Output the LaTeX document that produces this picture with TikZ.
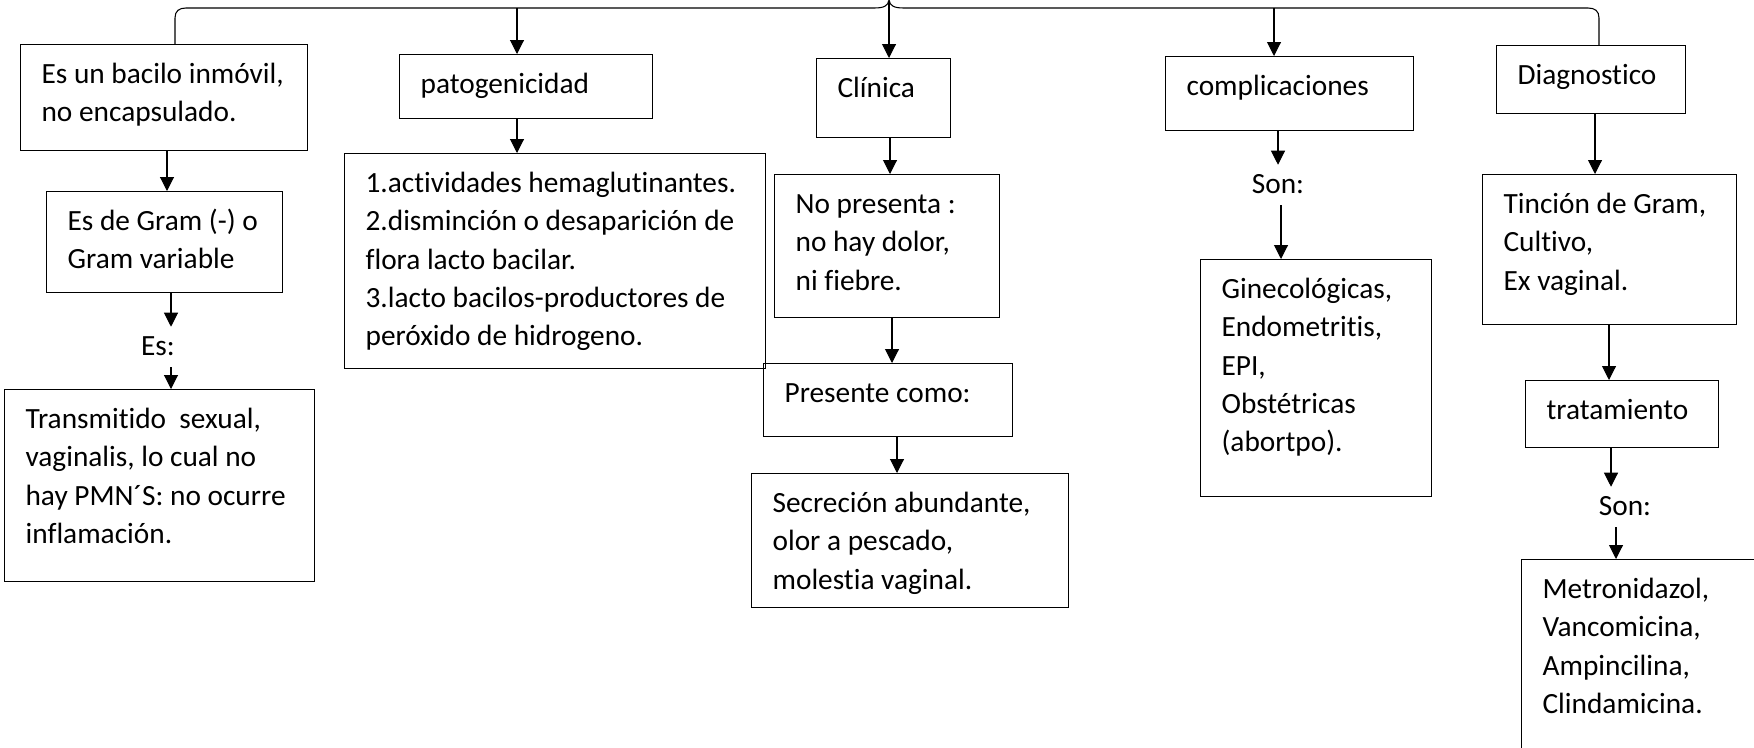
\documentclass[tikz,border=0pt]{standalone}
\usepackage{fontspec}
\setmainfont{Carlito}[Ligatures=NoCommon]
\usepackage{tikz}
\usetikzlibrary{arrows.meta,calc}
\newdimen\pxu \pxu=0.75pt
\newcommand{\pix}[1]{\the\dimexpr #1\pxu\relax}
\tikzset{
  caja/.style={rectangle, draw=black, line width=0.9pt, anchor=north west, inner sep=0pt,
    align=flush left, text height=\pix{39}, font=\fontsize{22pt}{28.7pt}\selectfont,
    execute at begin node={\leftskip=\pix{21}\relax}},
  etiq/.style={anchor=base, inner sep=0pt, text height=\pix{28}, text depth=\pix{12},
    font=\fontsize{22pt}{28.7pt}\selectfont},
  line/.style={draw, line width=0.8pt, -{Triangle[length=\pix{14},width=\pix{14}]}},
  corchete/.style={draw, line width=0.8pt},
}
\begin{document}
\begin{tikzpicture}[x=0.75pt,y=-0.75pt]
\useasboundingbox (0,0) rectangle (1754,747);
\clip (0,0) rectangle (1754,747);

  % top row
  \node[caja, text width=\pix{287}, text depth=\pix{67}] (bacilo) at (20,44) {Es un bacilo inmóvil,\\no encapsulado.};
  \node[caja, text width=\pix{253}, text depth=\pix{25}] (pato) at (399,54) {patogenicidad};
  \node[caja, text width=\pix{134}, text depth=\pix{40}] (clin) at (816,58) {Clínica};
  \node[caja, text width=\pix{248}, text depth=\pix{35}] (compl) at (1165,56) {complicaciones};
  \node[caja, text width=\pix{189}, text depth=\pix{29}] (diag) at (1496,45) {Diagnostico};

  \coordinate (rama1) at (517,8);
  \coordinate (punta) at (889,1);
  \coordinate (rama3) at (1274,8);
  \path[corchete] (bacilo.north -| 175,0) -- (175,18) .. controls (175,11) and (179,8) .. (186,8) -- (874,8)
    .. controls (884,8) and (888,6) .. (889,0) .. controls (890,6) and (894,8) .. (904,8) -- (1588,8)
    .. controls (1595,8) and (1599,11) .. (1599,18) -- (diag.north -| 1599,0);
  \path[line] (rama1) -- (rama1 |- pato.north);
  \path[line] (punta) -- (punta |- clin.north);
  \path[line] (rama3) -- (rama3 |- compl.north);

  % left column
  \node[caja, text width=\pix{236}, text depth=\pix{62}] (gram) at (46,191) {Es de Gram (-) o\\Gram variable};
  \node[etiq] (es) at (158,355) {Es:};
  \node[caja, text width=\pix{310}, text depth=\pix{153}] (trans) at (4,389) {Transmitido\ \ sexual,\\vaginalis, lo cual no\\hay PMN´S: no ocurre\\inflamación.};
  \path[line] (bacilo.south -| 167,0) -- (gram.north -| 167,0);
  \path[line] (gram.south -| 171,0) -- (es.north -| 171,0);
  \path[line] (es.south -| 171,0) -- (trans.north -| 171,0);

  % patogenicidad
  \node[caja, text width=\pix{421}, text depth=\pix{176}] (activ) at (344,153) {1.actividades hemaglutinantes.\\2.disminción o desaparición de\\flora lacto bacilar.\\3.lacto bacilos-productores de\\peróxido de hidrogeno.};
  \path[line] (pato.south -| 517,0) -- (activ.north -| 517,0);

  % clinica
  \node[caja, text width=\pix{225}, text depth=\pix{104}] (nopres) at (774,174) {No presenta :\\no hay dolor,\\ni fiebre.};
  \node[caja, text width=\pix{249}, text depth=\pix{34}] (pres) at (763,363) {Presente como:};
  \node[caja, text width=\pix{317}, text depth=\pix{95}] (secrec) at (751,473) {Secreción abundante,\\olor a pescado,\\molestia vaginal.};
  \path[line] (clin.south -| 890,0) -- (nopres.north -| 890,0);
  \path[line] (nopres.south -| 892,0) -- (pres.north -| 892,0);
  \path[line] (pres.south -| 897,0) -- (secrec.north -| 897,0);

  % complicaciones
  \node[etiq] (son1) at (1278,193) {Son:};
  \node[caja, text width=\pix{231}, text depth=\pix{198}] (gineco) at (1200,259) {Ginecológicas,\\Endometritis,\\EPI,\\Obstétricas\\(abortpo).};
  \path[line] (compl.south -| 1278,0) -- (son1.north -| 1278,0);
  \path[line] (son1.south -| 1281,0) -- (gineco.north -| 1281,0);

  % diagnostico
  \node[caja, text width=\pix{254}, text depth=\pix{111}] (tinc) at (1482,174) {Tinción de Gram,\\Cultivo,\\Ex vaginal.};
  \node[caja, text width=\pix{193}, text depth=\pix{28}] (trat) at (1525,380) {tratamiento};
  \node[etiq] (son2) at (1625,515) {Son:};
  \node[caja, text width=\pix{280}, text depth=\pix{200}] (metro) at (1521,559) {Metronidazol,\\Vancomicina,\\Ampincilina,\\Clindamicina.};
  \path[line] (diag.south -| 1595,0) -- (tinc.north -| 1595,0);
  \path[line] (tinc.south -| 1609,0) -- (trat.north -| 1609,0);
  \path[line] (trat.south -| 1611,0) -- (son2.north -| 1611,0);
  \path[line] (son2.south -| 1616,0) -- (metro.north -| 1616,0);
\end{tikzpicture}
\end{document}
